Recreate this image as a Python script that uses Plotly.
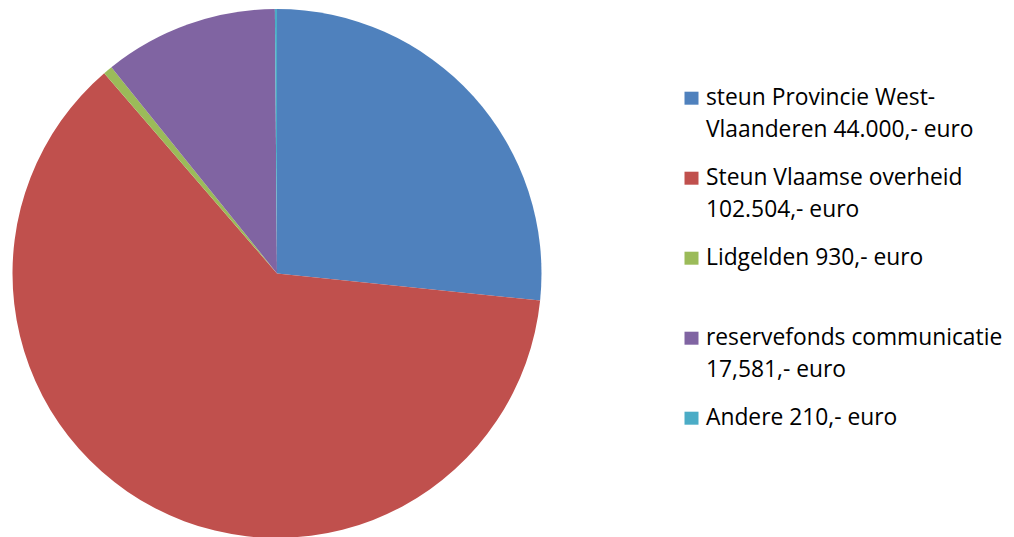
import plotly.graph_objects as go

# legend labels (one list per item: text lines)
label_lines = [
    ["steun Provincie West-", "Vlaanderen 44.000,- euro"],
    ["Steun Vlaamse overheid", "102.504,- euro"],
    ["Lidgelden 930,- euro"],
    ["reservefonds communicatie", "17,581,- euro"],
    ["Andere 210,- euro"],
]
labels = [" ".join(l) for l in label_lines]
values = [44000, 102504, 930, 17581, 210]
colors = ["#4F81BD", "#C0504D", "#9BBB59", "#8064A2", "#4BACC6"]

W, H = 1014, 537
OFF = 8  # page body margin offset

fig = go.Figure(go.Pie(
    labels=labels,
    values=values,
    sort=False,
    direction="clockwise",
    rotation=0,
    textinfo="none",
    hoverinfo="label+value+percent",
    marker=dict(colors=colors, line=dict(width=0)),
    domain=dict(x=[0, 538 / W], y=[7 / H, 1 - 1 / H]),
    showlegend=False,
))

# custom legend (Excel-like layout), positions in screen px
FONT = dict(family="Open Sans", size=22.8, color="black")
first_baseline = 105.7 - OFF
item_pitch = 80
line_pitch = 31.5
sq_x0, sq_x1 = 684.5 - OFF, 698.5 - OFF
txt_x = 704.5 - OFF
shapes = []
annotations = []
for i, (lines, col) in enumerate(zip(label_lines, colors)):
    base = first_baseline + i * item_pitch
    shapes.append(dict(
        type="rect", xref="paper", yref="paper",
        x0=sq_x0 / W, x1=sq_x1 / W,
        y0=1 - (base - 1) / H, y1=1 - (base - 14) / H,
        fillcolor=col, line=dict(width=0),
    ))
    for j, txt in enumerate(lines):
        b = base + j * line_pitch
        yc = b - 0.388 * FONT["size"]
        annotations.append(dict(
            text=txt, xref="paper", yref="paper",
            x=txt_x / W, y=1 - yc / H,
            xanchor="left", yanchor="middle",
            showarrow=False, font=FONT, borderpad=0,
        ))

fig.update_layout(
    width=W,
    height=H,
    margin=dict(l=0, r=0, t=0, b=0, autoexpand=False),
    paper_bgcolor="white",
    plot_bgcolor="white",
    shapes=shapes,
    annotations=annotations,
)

fig.write_html("out.html")
